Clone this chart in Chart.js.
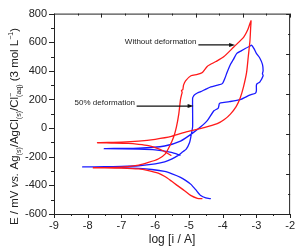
<!DOCTYPE html>
<html><head><meta charset="utf-8">
<script src="https://cdn.jsdelivr.net/npm/chart.js@4.4.1/dist/chart.umd.min.js"></script>
<style>html,body{margin:0;padding:0;background:#fff}#wrap{width:300px;height:248px}</style>
</head><body><div id="wrap"><canvas id="c" width="300" height="248"></canvas></div>
<script>
// Without deformation (red): log i, E (mV)
const redX = [-4.60,-4.75,-4.95,-5.13,-5.35,-5.52,-5.70,-5.91,-6.20,-6.49,-7.00,-7.50,-7.85,
  -7.50,-7.00,-6.49,-6.20,-5.91,-5.70,-5.57,-5.45,-5.37,-5.30,-5.25,-5.22,-5.20,-5.22,-5.18,-5.16,-5.10,-4.94,-4.75,-4.60,-4.45,-4.20,-3.96,-3.67,-3.38,-3.25,-3.16,
  -3.17,-3.19,-3.24,-3.29,-3.38,-3.48,-3.60,-3.77,-3.95,-4.16,-4.55,-5.05,-5.52,-6.00,-6.49,-7.00,-7.71,
  -7.30,-6.80,-6.49,-6.20,-6.00,-5.75,-5.52];
const redY = [-493,-490,-470,-437,-400,-370,-340,-315,-297,-285,-279,-277,-277,
  -276,-273,-258,-240,-216,-180,-125,-60,9,100,200,232,250,262,270,300,330,366,375,389,433,465,500,567,634,690,750,
  700,612,500,389,290,210,150,98,60,31,3,-24,-58,-78,-91,-98,-102,
  -104,-107,-113,-122,-136,-160,-192];
// 50% deformation (blue)
const blueX = [-4.35,-4.50,-4.65,-4.80,-4.94,-5.10,-5.25,-5.50,-5.72,-6.10,-6.49,-7.00,-7.60,-8.15,
  -7.50,-7.00,-6.49,-6.00,-5.72,-5.50,-5.33,-5.18,-5.08,-4.98,-4.94,-4.91,-4.89,-4.89,-4.89,-4.86,-4.84,-4.75,-4.65,-4.50,-4.35,-4.15,-4.01,-3.93,-3.87,-3.77,-3.68,-3.58,-3.45,-3.33,-3.20,-3.14,
  -3.07,-3.00,-2.90,-2.82,-2.80,-2.82,-2.80,-2.90,-2.98,-3.00,-3.00,-3.03,-3.20,-3.48,-3.80,-4.06,-4.10,-4.13,-4.26,-4.45,-4.65,-4.89,-5.25,-5.72,-6.49,-7.51,
  -6.49,-6.00,-5.52,-5.25];
const blueY = [-493,-488,-471,-430,-393,-365,-344,-320,-303,-289,-281,-276,-272,-271,
  -270,-268,-263,-250,-236,-215,-192,-165,-147,-100,-58,-20,9,100,210,225,232,245,255,272,288,300,311,350,389,445,480,522,540,556,572,579,
  555,522,490,445,400,380,366,322,310,299,260,244,230,199,185,177,170,140,121,54,9,-35,-91,-125,-140,-143,
  -147,-152,-170,-190];
// axis ticks
const xTicks = [-9,-8,-7,-6,-5,-4,-3,-2];
const yTicks = [-600,-400,-200,0,200,400,600,800];
// annotations: label, text start x, arrow start x, arrow tip x, E level
const annLabels = ["Without deformation","50% deformation"];
const annTextX = [-6.90,-8.39];
const annArrowFrom = [-4.72,-6.55];
const annArrowTo = [-3.63,-4.86];
const annY = [581,154];

const pts = (xs,ys)=>xs.map((x,i)=>({x:x,y:ys[i]}));
const FONT = "'Liberation Sans', Arial, sans-serif";
const INK = '#222';

const decor = {
  id:'decor',
  afterDraw(chart){
    const ctx = chart.ctx, a = chart.chartArea, xs = chart.scales.x, ys = chart.scales.y;
    ctx.save();
    ctx.strokeStyle = INK; ctx.lineWidth = 1;
    ctx.strokeRect(a.left+0.5, a.top+0.5, a.right-a.left-1, a.bottom-a.top);
    ctx.beginPath();
    for(let v=-600; v<=800; v+=100){
      const p = Math.round(ys.getPixelForValue(v))+0.5;
      const L = (v%200===0)?5:3;
      ctx.moveTo(a.left, p); ctx.lineTo(a.left-L, p);
    }
    for(let v=-9; v<=-2.001+0.5; v+=0.5){
      const p = Math.round(xs.getPixelForValue(v))+0.5;
      const L = (Math.abs(v-Math.round(v))<1e-6)?4:2;
      ctx.moveTo(p, a.bottom); ctx.lineTo(p, a.bottom+L);
    }
    for(let k=0;k<=10;k++){
      const v = -600+140*k;
      const p = Math.round(ys.getPixelForValue(v))+0.5;
      const L = (k%2===0)?4:2;
      ctx.moveTo(a.right, p); ctx.lineTo(a.right-L, p);
    }
    for(let k=0;k<=10;k++){
      const v = -9+0.7*k;
      const p = Math.round(xs.getPixelForValue(v))+0.5;
      const L = (k%2===0)?4:2;
      ctx.moveTo(p, a.top); ctx.lineTo(p, a.top+L);
    }
    ctx.stroke();

    ctx.font = "8px "+FONT; ctx.fillStyle = INK; ctx.textBaseline='alphabetic'; ctx.textAlign='left';
    for(let i=0;i<annLabels.length;i++){
      const y = ys.getPixelForValue(annY[i]);
      ctx.fillText(annLabels[i], xs.getPixelForValue(annTextX[i]), y-1);
      const x0 = xs.getPixelForValue(annArrowFrom[i]), x1 = xs.getPixelForValue(annArrowTo[i]);
      ctx.beginPath(); ctx.lineWidth=1.2; ctx.strokeStyle='#111';
      ctx.moveTo(x0, y); ctx.lineTo(x1-4, y); ctx.stroke();
      ctx.beginPath(); ctx.fillStyle='#111';
      ctx.moveTo(x1, y); ctx.lineTo(x1-6, y-2); ctx.lineTo(x1-6, y+2); ctx.closePath(); ctx.fill();
      ctx.fillStyle = INK;
    }

    const segs = [
      {t:"E / mV ", s:0},{t:"vs.", s:0, it:true},{t:" Ag", s:0},{t:"(s)", s:-1},{t:"/AgCl", s:0},{t:"(s)", s:-1},
      {t:"/Cl", s:0},{t:"\u2212", s:1, stack:"(aq)"},{t:" (3 mol L", s:0},{t:"\u22121", s:1},{t:")", s:0}
    ];
    const big = 11.5, small = 7;
    const fnt = (sz,it)=> (it?"italic ":"")+sz+"px "+FONT;
    let total = 0;
    const widths = segs.map(g=>{
      ctx.font = fnt(g.s===0?big:small, g.it);
      let w = ctx.measureText(g.t).width;
      if(g.stack){ w = Math.max(w, ctx.measureText(g.stack).width); }
      total += w; return w;
    });
    ctx.translate(15, 126.5); ctx.rotate(-Math.PI/2);
    ctx.textBaseline='middle';
    let x = -total/2;
    segs.forEach((g,i)=>{
      ctx.font = fnt(g.s===0?big:small, g.it);
      const dy = g.s===0?0:(g.s<0?4:-4);
      ctx.fillText(g.t, x, dy);
      if(g.stack){ ctx.fillText(g.stack, x, 4); }
      x += widths[i];
    });
    ctx.restore();
  }
};

new Chart(document.getElementById('c'), {
  type:'scatter',
  data:{datasets:[
    {label:'Without deformation', data:pts(redX,redY), showLine:true, borderColor:'#ff1a1a', borderWidth:1.3, pointRadius:0, tension:0.2, fill:false},
    {label:'50% deformation', data:pts(blueX,blueY), showLine:true, borderColor:'#1a1aff', borderWidth:1.3, pointRadius:0, tension:0.2, fill:false}
  ]},
  options:{
    responsive:false, animation:false, devicePixelRatio:1,
    layout:{padding:{top:5,right:6,left:0,bottom:0}},
    plugins:{legend:{display:false}, tooltip:{enabled:false}},
    scales:{
      x:{type:'linear', min:-9, max:-2,
        afterBuildTicks(s){ s.ticks = xTicks.map(v=>({value:v})); },
        afterFit(s){ s.height = 34; },
        grid:{display:false, drawTicks:false}, border:{display:false},
        ticks:{padding:5, color:INK, font:{family:FONT, size:11}, maxRotation:0},
        title:{display:true, text:'log [i / A]', color:INK, font:{family:FONT, size:12}, padding:{top:0,bottom:1}}
      },
      y:{type:'linear', min:-600, max:800,
        afterBuildTicks(s){ s.ticks = yTicks.map(v=>({value:v})); },
        afterFit(s){ s.width = 54; },
        grid:{display:false, drawTicks:false}, border:{display:false},
        ticks:{padding:7, color:INK, font:{family:FONT, size:11}}
      }
    }
  },
  plugins:[decor]
});
</script></body></html>
